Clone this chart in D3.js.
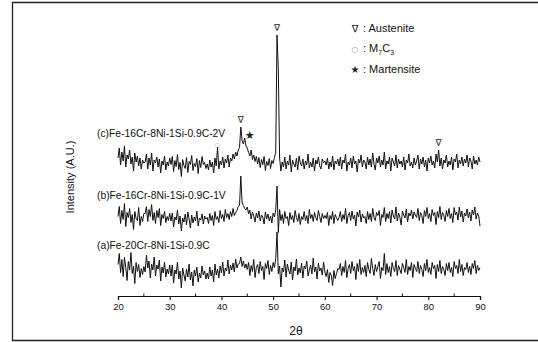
<!DOCTYPE html>
<html>
<head>
<meta charset="utf-8">
<script src="https://cdn.jsdelivr.net/npm/d3@7/dist/d3.min.js"></script>
<style>
  body { margin: 0; background: #fff; }
  svg { display: block; font-family: "Liberation Sans", Arial, sans-serif; }
</style>
</head>
<body>
<div id="chart"></div>
<script>
// scan grid (2theta, deg)
const twoThetaStart = 20;
const twoThetaStep = 0.25;

const seriesLabels = [
  '(a)Fe-20Cr-8Ni-1Si-0.9C',
  '(b)Fe-16Cr-8Ni-1Si-0.9C-1V',
  '(c)Fe-16Cr-8Ni-1Si-0.9C-2V'
];
// vertical stacking offsets (counts)
const seriesOffsets = [0, 212, 424];

// (a) Fe-20Cr-8Ni-1Si-0.9C
const intensityA = [
  126,170,94,146,78,154,114,62,138,104,174,90,118,50,134,98,126,74,110,86,118,
  96,164,112,140,72,128,104,156,80,124,108,144,60,116,92,136,76,108,88,124,
  80,124,52,104,88,136,68,100,32,112,84,60,108,76,128,64,96,40,104,80,116,56,92,72,120,84,100,68,
  92,68,116,80,104,56,128,84,108,72,120,92,136,80,112,100,144,88,124,104,132,96,148,112,128,
  130,156,118,140,112,128,
  106,134,82,122,98,146,74,114,126,90,138,102,118,66,130,110,142,86,122,98,134,114,150,
  256,
  88,120,36,112,96,144,76,128,104,88,136,64,116,100,148,84,112,92,132,72,
  120,108,140,80,104,124,88,152,96,116,68,132,100,112,84,136,96,
  78,106,54,94,82,42,102,70,90,110,
  106,130,82,118,94,142,74,110,126,90,
  138,102,118,66,130,98,146,86,114,94,
  122,78,134,106,90,150,110,82,126,98,
  118,138,70,114,102,170,86,130,94,118,
  78,134,110,98,142,82,122,106,90,130,
  114,94,146,86,118,102,134,74,126,110,
  98,138,90,122,106,78,130,102,146,94,
  114,86,134,110,122,70,126,98,142,90,
  118,106,82,130,102,134,94,114,78,138,
  110,122,90,146,98,126,82,114,106,134,
  94,118,86,130,110,142,90,122,102,114
];

// (b) Fe-16Cr-8Ni-1Si-0.9C-1V
const intensityB = [
  106,146,78,130,94,158,66,122,102,138,82,114,54,126,98,90,142,70,106,86,118,
  118,146,86,134,106,154,90,122,78,130,102,138,70,114,98,126,82,106,90,118,
  88,120,64,104,92,132,76,108,48,100,84,116,72,124,96,60,112,80,104,88,128,68,100,92,116,76,108,96,
  102,78,118,90,110,70,126,94,106,82,130,98,114,86,134,102,118,94,126,106,138,110,122,130,146,
  150,268,160,150,138,132,
  144,116,132,96,124,108,84,120,100,128,88,112,104,76,124,96,116,88,108,80,120,104,132,
  228,
  42,134,90,114,78,126,98,106,70,122,94,110,82,130,102,86,118,74,106,94,
  126,90,110,78,134,98,114,86,122,102,90,130,106,82,118,98,110,
  98,122,70,110,94,126,78,114,102,90,
  102,126,86,114,94,138,78,110,122,90,
  128,96,112,68,124,104,132,84,116,100,
  106,78,126,94,118,86,138,102,90,122,
  110,130,70,114,102,142,86,118,98,126,
  80,132,108,96,144,88,120,104,72,128,
  112,100,136,84,120,108,132,96,124,112,
  102,138,90,122,110,78,130,106,142,98,
  118,86,134,110,122,74,126,102,146,94,
  122,110,86,130,106,138,98,118,82,142,
  112,124,92,144,104,128,84,120,108,136,
  100,124,88,132,112,144,96,120,108,68
];

// (c) Fe-16Cr-8Ni-1Si-0.9C-2V
const intensityC = [
  128,168,100,152,116,176,92,140,124,160,104,132,76,148,112,136,96,128,84,120,108,
  112,144,84,128,100,148,76,120,108,132,92,124,68,116,100,136,80,112,96,128,
  102,134,74,118,94,142,82,110,54,122,98,86,130,70,114,102,138,78,106,94,126,66,118,90,134,102,110,86,
  104,80,120,92,112,68,128,96,172,84,116,100,132,88,124,108,140,92,128,116,144,124,152,136,160,
  170,252,196,184,208,176,
  168,150,136,160,122,140,114,134,104,130,90,122,102,134,78,114,98,126,86,118,106,130,150,
  620,480,
  128,76,112,92,132,84,116,100,140,72,120,104,92,128,80,136,108,96,124,84,
  116,100,144,88,112,92,128,76,120,104,132,96,84,124,108,116,
  100,128,84,112,92,136,80,116,104,124,
  96,132,84,120,108,144,76,112,100,128,
  88,136,104,116,72,124,108,140,92,120,
  112,84,132,100,124,92,148,104,80,128,
  108,136,92,120,100,152,84,116,104,132,
  76,128,112,96,140,88,124,104,116,92,
  132,80,120,108,144,96,112,88,128,100,
  116,140,84,124,104,132,92,120,76,128,
  108,136,100,116,88,144,112,160,96,128,
  84,120,108,140,92,116,100,132,80,124,
  112,144,88,120,104,132,96,124,108,140,
  92,128,116,84,136,104,120,100,132,112
];

const xTicks = [20, 30, 40, 50, 60, 70, 80, 90];
const xMinorTicks = [25, 35, 45, 55, 65, 75, 85];

// phase marks above peaks of series (c)
const peakMarks = [
  { series: 2, twoTheta: 39.25, phase: 'carbide' },
  { series: 2, twoTheta: 43.75, phase: 'austenite' },
  { series: 2, twoTheta: 44.5, phase: 'martensite' },
  { series: 2, twoTheta: 50.75, phase: 'austenite' },
  { series: 2, twoTheta: 82, phase: 'austenite' }
];

const phaseSymbols = { austenite: '\u2207', carbide: '\u25CB', martensite: '\u2605' };
const legendPhases = ['austenite', 'carbide', 'martensite'];

const width = 538, height = 342;
const svg = d3.select('#chart').append('svg')
  .attr('width', width)
  .attr('height', height);

// scanned page frame
svg.append('path')
  .attr('d', `M538,2.5 H12.5 V340.5 H538`)
  .attr('fill', 'none')
  .attr('stroke', '#222')
  .attr('stroke-width', 1.3);

const x = d3.scaleLinear().domain([20, 90]).range([118, 480]);
const y = d3.scaleLinear().domain([0, 1160]).range([296, 6]);

const seriesData = [intensityA, intensityB, intensityC];
const allSeries = seriesData.map((vals, s) =>
  vals.map((v, i) => ({ t: twoThetaStart + i * twoThetaStep, v: v + seriesOffsets[s] })));

const line = d3.line()
  .x(d => x(d.t))
  .y(d => y(d.v));

svg.append('g')
  .selectAll('path')
  .data(allSeries)
  .enter()
  .append('path')
  .attr('d', line)
  .attr('fill', 'none')
  .attr('stroke', '#111')
  .attr('stroke-width', 1)
  .attr('stroke-linejoin', 'round');

// x axis
const xAxis = d3.axisBottom(x).tickValues(xTicks).tickSize(4).tickPadding(3);
const axisG = svg.append('g')
  .attr('transform', `translate(0,${y(0)})`)
  .call(xAxis);
axisG.select('.domain').attr('stroke', '#111').attr('stroke-width', 1.2);
axisG.selectAll('.tick line').attr('stroke', '#111').attr('stroke-width', 1.1);
axisG.selectAll('.tick text')
  .attr('fill', '#111')
  .style('font-size', '9.5px')
  .style('font-family', '"Liberation Sans", Arial, sans-serif');

axisG.selectAll('.minor')
  .data(xMinorTicks)
  .enter()
  .append('line')
  .attr('class', 'minor')
  .attr('x1', d => x(d)).attr('x2', d => x(d))
  .attr('y1', 0).attr('y2', -2.5)
  .attr('stroke', '#111')
  .attr('stroke-width', 1);

svg.append('text')
  .attr('x', 296)
  .attr('y', 335)
  .attr('text-anchor', 'middle')
  .style('font-size', '12px')
  .attr('fill', '#111')
  .text('2\u03B8');

svg.append('text')
  .attr('transform', `translate(74,${177}) rotate(-90)`)
  .attr('text-anchor', 'middle')
  .style('font-size', '11px')
  .attr('fill', '#111')
  .text('Intensity (A.U.)');

// series labels sit above each trace
const labelBaselines = [249, 199, 137];
svg.append('g')
  .selectAll('text')
  .data(seriesLabels)
  .enter()
  .append('text')
  .attr('x', 97)
  .attr('y', (d, i) => labelBaselines[i])
  .style('font-size', '10.3px')
  .attr('fill', '#111')
  .text(d => d);

// phase marks
const markG = svg.append('g');
peakMarks.forEach(m => {
  const idx = Math.round((m.twoTheta - twoThetaStart) / twoThetaStep);
  const peakY = y(seriesData[m.series][idx] + seriesOffsets[m.series]);
  const isStar = m.phase === 'martensite';
  const isCarbide = m.phase === 'carbide';
  markG.append('text')
    .attr('x', x(m.twoTheta) + (isStar ? 5 : 0))
    .attr('y', isStar ? peakY + 1 : (isCarbide ? peakY - 0.5 : peakY - 4))
    .attr('text-anchor', 'middle')
    .style('font-size', isStar ? '11px' : (isCarbide ? '6px' : '9px'))
    .style('font-family', '"DejaVu Sans", sans-serif')
    .attr('fill', isCarbide ? '#888' : '#222')
    .text(phaseSymbols[m.phase]);
});

// legend
const legendRows = [32, 52, 73];
const legend = svg.append('g');
legendPhases.forEach((p, i) => {
  legend.append('text')
    .attr('x', 355)
    .attr('y', legendRows[i])
    .attr('text-anchor', 'middle')
    .style('font-size', p === 'carbide' ? '8px' : '10px')
    .style('font-family', '"DejaVu Sans", sans-serif')
    .attr('fill', p === 'carbide' ? '#888' : '#222')
    .text(phaseSymbols[p]);
  const t = legend.append('text')
    .attr('x', 363)
    .attr('y', legendRows[i])
    .style('font-size', '11px')
    .attr('fill', '#111');
  if (p === 'austenite') t.text(': Austenite');
  if (p === 'martensite') t.text(': Martensite');
  if (p === 'carbide') {
    t.append('tspan').text(': M');
    t.append('tspan').attr('dy', 3).style('font-size', '7px').text('7');
    t.append('tspan').attr('dy', -3).text('C');
    t.append('tspan').attr('dy', 3).style('font-size', '7px').text('3');
  }
});
</script>
</body>
</html>
